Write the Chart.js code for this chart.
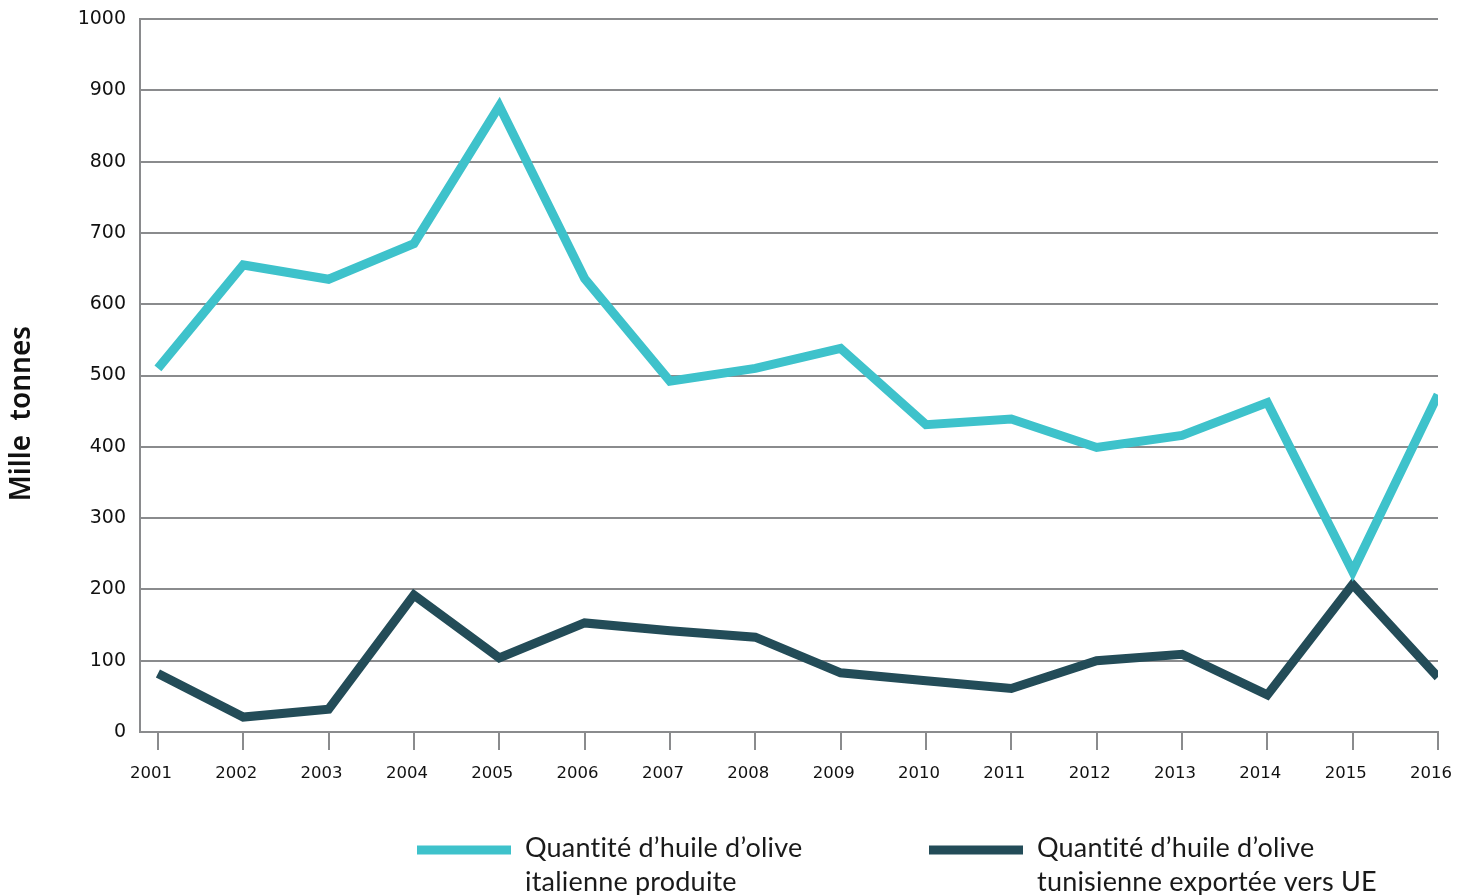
<!DOCTYPE html>
<html lang="fr">
<head>
<meta charset="utf-8">
<title>Huile d'olive</title>
<script src="https://cdn.jsdelivr.net/npm/chart.js@4.4.1/dist/chart.umd.min.js"></script>
<style>
  html, body { margin: 0; padding: 0; background: #fff; }
  #wrap { width: 1462px; height: 895px; }
</style>
</head>
<body>
<div id="wrap"><canvas id="oilChart" width="1462" height="895"></canvas></div>
<script>
// Years on the x axis
const years = [2001, 2002, 2003, 2004, 2005, 2006, 2007, 2008, 2009, 2010, 2011, 2012, 2013, 2014, 2015, 2016];
// Italian olive oil produced (thousand tonnes)
const italyProduced = [510, 655, 635, 685, 878, 636, 492, 510, 538, 431, 439, 399, 416, 462, 225, 473];
// Tunisian olive oil exported to the EU (thousand tonnes)
const tunisiaExported = [82, 21, 32, 192, 104, 153, 142, 133, 83, 72, 61, 100, 109, 52, 207, 77];
// y axis ticks
const yTicks = [0, 100, 200, 300, 400, 500, 600, 700, 800, 900, 1000];
// legend texts (two lines each)
const italyLegend = ["Quantité d’huile d’olive", "italienne produite"];
const tunisiaLegend = ["Quantité d’huile d’olive", "tunisienne exportée vers UE"];
const yTitle = "Mille  tonnes";

const gridGrey = "#8a8b8d";

// Legend and rotated axis title drawn by hand, so they sit where the original puts them
const legendPlugin = {
  id: "twoLineLegend",
  afterDraw(chart, args, opts) {
    const ctx = chart.ctx;
    ctx.save();
    chart.data.datasets.forEach((ds, i) => {
      const x = opts.starts[i];
      ctx.fillStyle = ds.borderColor;
      ctx.fillRect(x, opts.y - 4.5, opts.boxWidth, 9);
      ctx.fillStyle = "#1a1a1a";
      ctx.font = opts.font;
      ctx.letterSpacing = "0.2px"; // also stops the "ti" ligature
      ctx.textAlign = "left";
      ctx.textBaseline = "alphabetic";
      ds.legendLines.forEach((line, j) => {
        ctx.fillText(line, x + opts.boxWidth + 14, opts.baseline + j * opts.lineGap);
      });
    });
    ctx.letterSpacing = "0px";
    // y title
    ctx.translate(opts.titleX, (chart.chartArea.top + chart.chartArea.bottom) / 2 + opts.titleShift);
    ctx.rotate(-Math.PI / 2);
    ctx.font = opts.titleFont;
    ctx.fillStyle = "#111";
    ctx.textAlign = "center";
    ctx.textBaseline = "middle";
    ctx.fillText(yTitle, 0, 0);
    ctx.restore();
  }
};

const ctx = document.getElementById("oilChart").getContext("2d");
const oilChart = new Chart(ctx, {
  type: "line",
  data: {
    datasets: [
      {
        label: italyLegend.join(" "),
        legendLines: italyLegend,
        data: years.map((y, i) => ({ x: y, y: italyProduced[i] })),
        borderColor: "#3ec2cb",
        backgroundColor: "#3ec2cb",
        borderWidth: 9,
        pointRadius: 0,
        tension: 0,
      },
      {
        label: tunisiaLegend.join(" "),
        legendLines: tunisiaLegend,
        data: years.map((y, i) => ({ x: y, y: tunisiaExported[i] })),
        borderColor: "#234c58",
        backgroundColor: "#234c58",
        borderWidth: 9,
        pointRadius: 0,
        tension: 0,
      },
    ],
  },
  options: {
    responsive: false,
    devicePixelRatio: 1,
    animation: false,
    layout: { padding: { top: 19, right: 24, bottom: 93, left: 0 } },
    plugins: {
      legend: { display: false },
      tooltip: { enabled: false },
      twoLineLegend: {
        starts: [417, 929],
        boxWidth: 94,
        y: 850,
        baseline: 857,
        lineGap: 34,
        font: "27px Lato",
        titleFont: "600 28px 'Noto Sans'",
        titleX: 22,
        titleShift: 38,
      },
    },
    scales: {
      x: {
        type: "linear",
        min: 2000.79,
        max: 2016,
        afterFit: (scale) => {
          scale.height = 70;
          scale.paddingLeft = 0;
          scale.paddingRight = 0;
        },
        afterBuildTicks: (scale) => { scale.ticks = years.map((v) => ({ value: v })); },
        grid: {
          drawOnChartArea: false,
          drawTicks: true,
          tickLength: 18,
          color: gridGrey,
          lineWidth: 2,
        },
        border: { color: gridGrey, width: 2 },
        ticks: {
          autoSkip: false,
          maxRotation: 0,
          padding: 14,
          labelOffset: -7,
          color: "#111",
          font: { family: "'DejaVu Sans'", size: 16.5 },
          callback: (v) => String(v),
        },
      },
      y: {
        min: 0,
        max: 1000,
        afterFit: (scale) => {
          scale.width = 140;
          scale.paddingTop = 0;
          scale.paddingBottom = 0;
        },
        afterBuildTicks: (scale) => { scale.ticks = yTicks.map((v) => ({ value: v })); },
        grid: {
          drawTicks: false,
          color: gridGrey,
          lineWidth: 2,
        },
        border: { color: gridGrey, width: 2 },
        ticks: {
          padding: 14,
          color: "#111",
          font: { family: "'DejaVu Sans'", size: 19 },
          callback: (v) => String(v),
        },
      },
    },
  },
  plugins: [legendPlugin],
});
</script>
</body>
</html>
